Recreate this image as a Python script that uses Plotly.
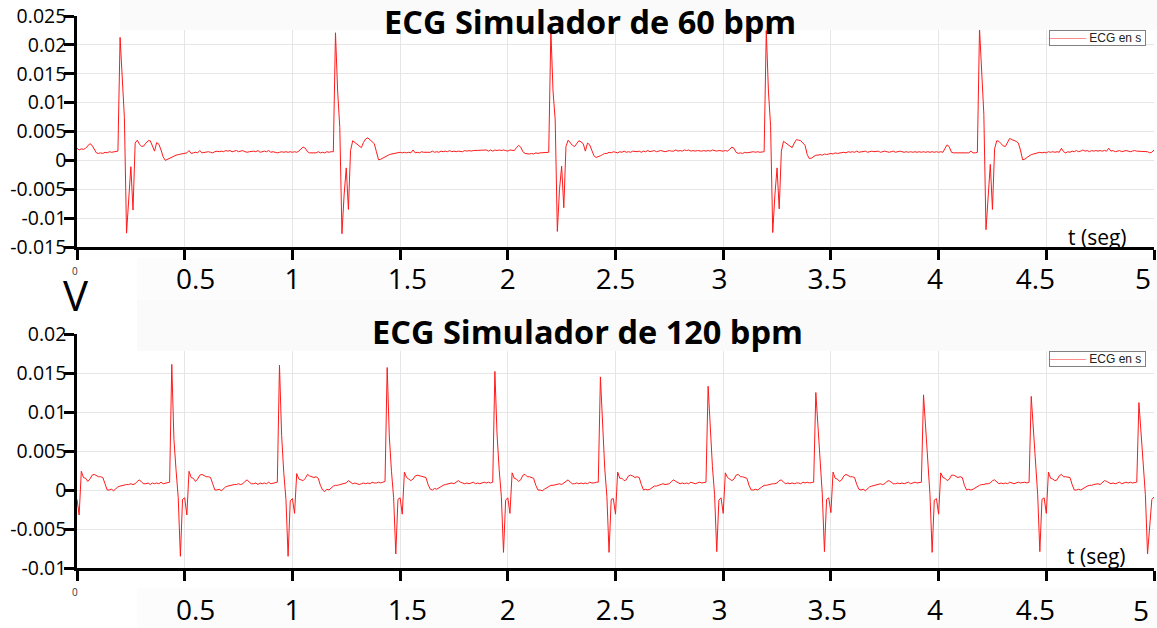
import numpy as np
import plotly.graph_objects as go

# ---------------- data: ECG 60 bpm, sampled every 0.01 s (rows of 0.1 s) ----------------
sec0_60 = [
    0.0021, 0.0018, 0.0020, 0.0019, 0.0021, 0.0026, 0.0029, 0.0026, 0.0018, 0.0013,
    0.0012, 0.0013, 0.0012, 0.0014, 0.0013, 0.0015, 0.0014, 0.0015, 0.0016, 0.0016,
    0.0213, 0.0130, 0.0074, -0.0126, -0.0060, -0.0011, -0.0086, 0.0030, 0.0035, 0.0028,
    0.0024, 0.0025, 0.0030, 0.0034, 0.0034, 0.0026, 0.0016, 0.0031, 0.0028, 0.0018,
    0.0006, 0.0000, 0.0002, 0.0004, 0.0006, 0.0008, 0.0009, 0.0010, 0.0011, 0.0011,
    0.0012, 0.0013, 0.0017, 0.0012, 0.0013, 0.0014, 0.0013, 0.0017, 0.0013, 0.0014,
    0.0014, 0.0015, 0.0014, 0.0013, 0.0015, 0.0016, 0.0015, 0.0016, 0.0015, 0.0017,
    0.0016, 0.0017, 0.0015, 0.0016, 0.0017, 0.0015, 0.0016, 0.0017, 0.0015, 0.0014,
    0.0015, 0.0016, 0.0016, 0.0015, 0.0017, 0.0014, 0.0015, 0.0016, 0.0015, 0.0017,
    0.0014, 0.0015, 0.0014, 0.0013, 0.0014, 0.0015, 0.0014, 0.0015, 0.0014, 0.0015,
]
sec1_60 = [
    0.0014, 0.0015, 0.0014, 0.0016, 0.0020, 0.0023, 0.0021, 0.0015, 0.0013, 0.0013,
    0.0014, 0.0013, 0.0015, 0.0013, 0.0014, 0.0013, 0.0015, 0.0014, 0.0015, 0.0015,
    0.0221, 0.0120, 0.0057, -0.0127, -0.0060, -0.0013, -0.0085, 0.0017, 0.0034, 0.0031,
    0.0028, 0.0025, 0.0022, 0.0031, 0.0037, 0.0039, 0.0036, 0.0033, 0.0029, 0.0015,
    0.0001, 0.0002, 0.0004, 0.0007, 0.0008, 0.0010, 0.0011, 0.0012, 0.0013, 0.0013,
    0.0014, 0.0013, 0.0014, 0.0013, 0.0014, 0.0013, 0.0018, 0.0013, 0.0014, 0.0013,
    0.0015, 0.0014, 0.0014, 0.0015, 0.0014, 0.0016, 0.0014, 0.0015, 0.0014, 0.0016,
    0.0015, 0.0016, 0.0015, 0.0017, 0.0015, 0.0016, 0.0015, 0.0016, 0.0016, 0.0015,
    0.0017, 0.0016, 0.0017, 0.0016, 0.0017, 0.0017, 0.0018, 0.0017, 0.0018, 0.0017,
    0.0018, 0.0016, 0.0018, 0.0016, 0.0018, 0.0017, 0.0018, 0.0017, 0.0018, 0.0017,
]
sec2_60 = [
    0.0016, 0.0018, 0.0017, 0.0017, 0.0022, 0.0026, 0.0023, 0.0015, 0.0012, 0.0011,
    0.0011, 0.0012, 0.0011, 0.0013, 0.0012, 0.0013, 0.0013, 0.0014, 0.0014, 0.0014,
    0.0225, 0.0120, 0.0070, -0.0123, -0.0050, -0.0010, -0.0082, 0.0024, 0.0035, 0.0031,
    0.0026, 0.0024, 0.0030, 0.0034, 0.0032, 0.0029, 0.0016, 0.0030, 0.0027, 0.0016,
    0.0008, 0.0005, 0.0006, 0.0008, 0.0010, 0.0012, 0.0012, 0.0014, 0.0013, 0.0015,
    0.0014, 0.0013, 0.0015, 0.0014, 0.0016, 0.0014, 0.0015, 0.0014, 0.0016, 0.0015,
    0.0015, 0.0016, 0.0014, 0.0016, 0.0015, 0.0017, 0.0015, 0.0016, 0.0017, 0.0015,
    0.0016, 0.0017, 0.0016, 0.0015, 0.0016, 0.0017, 0.0016, 0.0016, 0.0018, 0.0016,
    0.0017, 0.0016, 0.0018, 0.0017, 0.0018, 0.0016, 0.0017, 0.0016, 0.0017, 0.0016,
    0.0016, 0.0017, 0.0016, 0.0017, 0.0016, 0.0018, 0.0017, 0.0016, 0.0017, 0.0016,
]
sec3_60 = [
    0.0016, 0.0017, 0.0016, 0.0019, 0.0023, 0.0021, 0.0014, 0.0012, 0.0013, 0.0012,
    0.0014, 0.0013, 0.0014, 0.0014, 0.0015, 0.0014, 0.0015, 0.0014, 0.0015, 0.0015,
    0.0225, 0.0120, 0.0060, -0.0125, -0.0060, -0.0013, -0.0084, 0.0016, 0.0033, 0.0030,
    0.0028, 0.0025, 0.0022, 0.0030, 0.0036, 0.0035, 0.0034, 0.0030, 0.0026, 0.0010,
    0.0003, 0.0004, 0.0007, 0.0009, 0.0009, 0.0010, 0.0009, 0.0011, 0.0010, 0.0011,
    0.0012, 0.0011, 0.0013, 0.0012, 0.0013, 0.0013, 0.0014, 0.0013, 0.0015, 0.0014,
    0.0015, 0.0014, 0.0016, 0.0014, 0.0015, 0.0015, 0.0016, 0.0014, 0.0015, 0.0016,
    0.0015, 0.0015, 0.0016, 0.0014, 0.0015, 0.0016, 0.0015, 0.0014, 0.0015, 0.0016,
    0.0014, 0.0015, 0.0016, 0.0015, 0.0014, 0.0015, 0.0014, 0.0015, 0.0014, 0.0015,
    0.0014, 0.0015, 0.0014, 0.0015, 0.0014, 0.0015, 0.0014, 0.0015, 0.0014, 0.0015,
]
sec4_60 = [
    0.0014, 0.0015, 0.0014, 0.0021, 0.0027, 0.0023, 0.0014, 0.0013, 0.0013, 0.0012,
    0.0013, 0.0013, 0.0012, 0.0013, 0.0013, 0.0016, 0.0013, 0.0013, 0.0014, 0.0228,
    0.0140, 0.0080, -0.0120, -0.0060, -0.0007, -0.0085, 0.0020, 0.0034, 0.0033, 0.0029,
    0.0025, 0.0024, 0.0030, 0.0038, 0.0036, 0.0035, 0.0033, 0.0030, 0.0018, 0.0001,
    0.0002, 0.0005, 0.0008, 0.0010, 0.0011, 0.0012, 0.0012, 0.0014, 0.0013, 0.0014,
    0.0013, 0.0015, 0.0014, 0.0015, 0.0014, 0.0015, 0.0014, 0.0021, 0.0015, 0.0013,
    0.0015, 0.0014, 0.0016, 0.0015, 0.0017, 0.0015, 0.0016, 0.0018, 0.0016, 0.0017,
    0.0015, 0.0017, 0.0016, 0.0017, 0.0016, 0.0017, 0.0016, 0.0017, 0.0016, 0.0021,
    0.0016, 0.0017, 0.0015, 0.0016, 0.0017, 0.0015, 0.0016, 0.0017, 0.0016, 0.0015,
    0.0016, 0.0017, 0.0016, 0.0016, 0.0015, 0.0016, 0.0016, 0.0015, 0.0013, 0.0014,
    0.0018,
]

# ---------------- data: ECG 120 bpm, sampled every 0.01 s (one list per beat) ----------------
pre_120 = [
    -0.0012, -0.0032, 0.0024, 0.0016, 0.0015, 0.0011, 0.0014, 0.0019, 0.0020, 0.0018,
    0.0017, 0.0017, 0.0016, 0.0008, 0.0000, 0.0000, 0.0001, -0.0001, 0.0002, 0.0004,
    0.0005, 0.0006, 0.0006, 0.0007, 0.0007, 0.0008, 0.0007, 0.0008, 0.0011, 0.0013,
    0.0010, 0.0008, 0.0008, 0.0009, 0.0007, 0.0009, 0.0008, 0.0009, 0.0008, 0.0010,
    0.0008, 0.0009, 0.0010, 0.0010,
]
beat1_120 = [
    0.0161, 0.0065, 0.0025, -0.0010, -0.0085, -0.0012, -0.0010, -0.0032, 0.0024, 0.0016,
    0.0015, 0.0011, 0.0014, 0.0019, 0.0020, 0.0018, 0.0017, 0.0017, 0.0016, 0.0008,
    0.0000, 0.0000, 0.0001, -0.0001, 0.0002, 0.0004, 0.0005, 0.0006, 0.0006, 0.0007,
    0.0007, 0.0008, 0.0007, 0.0008, 0.0011, 0.0013, 0.0010, 0.0008, 0.0008, 0.0009,
    0.0007, 0.0009, 0.0008, 0.0009, 0.0008, 0.0010, 0.0008, 0.0009, 0.0010, 0.0010,
]
beat2_120 = [
    0.0160, 0.0070, 0.0022, -0.0012, -0.0085, -0.0014, -0.0011, -0.0030, 0.0021, 0.0014,
    0.0013, 0.0012, 0.0015, 0.0020, 0.0018, 0.0017, 0.0016, 0.0017, 0.0015, 0.0006,
    0.0000, -0.0002, 0.0001, 0.0000, 0.0003, 0.0005, 0.0006, 0.0006, 0.0007, 0.0008,
    0.0008, 0.0009, 0.0012, 0.0010, 0.0008, 0.0009, 0.0008, 0.0007, 0.0008, 0.0009,
    0.0008, 0.0009, 0.0008, 0.0010, 0.0009, 0.0009, 0.0010, 0.0009, 0.0010, 0.0011,
]
beat3_120 = [
    0.0157, 0.0068, 0.0024, -0.0010, -0.0082, -0.0012, -0.0010, -0.0031, 0.0023, 0.0016,
    0.0014, 0.0012, 0.0014, 0.0018, 0.0019, 0.0018, 0.0017, 0.0016, 0.0016, 0.0007,
    0.0001, 0.0000, 0.0002, 0.0001, 0.0003, 0.0005, 0.0006, 0.0007, 0.0008, 0.0008,
    0.0009, 0.0008, 0.0010, 0.0012, 0.0010, 0.0009, 0.0008, 0.0009, 0.0008, 0.0009,
    0.0010, 0.0008, 0.0009, 0.0008, 0.0009, 0.0010, 0.0009, 0.0010, 0.0009, 0.0010,
]
beat4_120 = [
    0.0152, 0.0072, 0.0026, -0.0008, -0.0080, -0.0013, -0.0010, -0.0030, 0.0022, 0.0015,
    0.0014, 0.0011, 0.0013, 0.0019, 0.0020, 0.0017, 0.0017, 0.0016, 0.0015, 0.0006,
    0.0000, 0.0000, -0.0001, 0.0001, 0.0003, 0.0004, 0.0006, 0.0006, 0.0007, 0.0007,
    0.0008, 0.0007, 0.0009, 0.0011, 0.0013, 0.0010, 0.0008, 0.0008, 0.0009, 0.0008,
    0.0009, 0.0008, 0.0009, 0.0008, 0.0010, 0.0009, 0.0009, 0.0010, 0.0010,
]
beat5_120 = [
    0.0145, 0.0075, 0.0028, -0.0008, -0.0080, -0.0012, -0.0011, -0.0031, 0.0023, 0.0015,
    0.0015, 0.0012, 0.0013, 0.0018, 0.0019, 0.0018, 0.0016, 0.0017, 0.0016, 0.0007,
    0.0000, 0.0001, 0.0000, 0.0001, 0.0003, 0.0005, 0.0005, 0.0006, 0.0007, 0.0008,
    0.0007, 0.0008, 0.0008, 0.0011, 0.0013, 0.0011, 0.0009, 0.0008, 0.0009, 0.0008,
    0.0009, 0.0008, 0.0010, 0.0009, 0.0008, 0.0009, 0.0010, 0.0009, 0.0010, 0.0010,
]
beat6_120 = [
    0.0133, 0.0078, 0.0030, -0.0006, -0.0079, -0.0013, -0.0010, -0.0030, 0.0022, 0.0016,
    0.0014, 0.0012, 0.0014, 0.0019, 0.0020, 0.0017, 0.0017, 0.0016, 0.0015, 0.0006,
    0.0000, 0.0000, 0.0001, 0.0000, 0.0002, 0.0004, 0.0006, 0.0006, 0.0007, 0.0007,
    0.0008, 0.0008, 0.0009, 0.0012, 0.0013, 0.0010, 0.0008, 0.0009, 0.0008, 0.0009,
    0.0008, 0.0009, 0.0009, 0.0008, 0.0010, 0.0009, 0.0010, 0.0009, 0.0010, 0.0010,
]
beat7_120 = [
    0.0125, 0.0080, 0.0031, -0.0005, -0.0079, -0.0012, -0.0010, -0.0029, 0.0023, 0.0015,
    0.0014, 0.0011, 0.0013, 0.0018, 0.0020, 0.0018, 0.0017, 0.0017, 0.0016, 0.0007,
    0.0001, 0.0000, 0.0001, -0.0001, 0.0002, 0.0004, 0.0005, 0.0006, 0.0007, 0.0007,
    0.0008, 0.0007, 0.0008, 0.0011, 0.0012, 0.0010, 0.0008, 0.0008, 0.0009, 0.0008,
    0.0009, 0.0008, 0.0009, 0.0010, 0.0008, 0.0009, 0.0010, 0.0009, 0.0010, 0.0010,
]
beat8_120 = [
    0.0122, 0.0078, 0.0030, -0.0006, -0.0080, -0.0013, -0.0011, -0.0031, 0.0022, 0.0016,
    0.0015, 0.0012, 0.0014, 0.0019, 0.0019, 0.0018, 0.0016, 0.0017, 0.0016, 0.0006,
    0.0000, 0.0001, 0.0000, 0.0001, 0.0003, 0.0005, 0.0006, 0.0007, 0.0007, 0.0008,
    0.0008, 0.0009, 0.0012, 0.0013, 0.0010, 0.0008, 0.0009, 0.0008, 0.0009, 0.0008,
    0.0010, 0.0009, 0.0008, 0.0009, 0.0010, 0.0009, 0.0010, 0.0010, 0.0009, 0.0010,
]
beat9_120 = [
    0.0120, 0.0077, 0.0029, -0.0006, -0.0079, -0.0012, -0.0010, -0.0030, 0.0023, 0.0015,
    0.0014, 0.0012, 0.0013, 0.0018, 0.0020, 0.0017, 0.0017, 0.0016, 0.0016, 0.0007,
    0.0000, 0.0000, 0.0001, 0.0000, 0.0002, 0.0004, 0.0005, 0.0006, 0.0006, 0.0007,
    0.0008, 0.0008, 0.0007, 0.0010, 0.0012, 0.0011, 0.0009, 0.0008, 0.0009, 0.0008,
    0.0009, 0.0010, 0.0008, 0.0009, 0.0010, 0.0009, 0.0010, 0.0009, 0.0010, 0.0010,
]
end_120 = [0.0112, 0.0075, 0.0028, -0.0006, -0.0082, -0.0040, -0.0012, -0.0009]

# ---------------- tick labels ----------------
x_tickvals = [0, 0.5, 1, 1.5, 2, 2.5, 3, 3.5, 4, 4.5, 5]
NB = "\u00a0"
# first ("0") and last ("5") labels are drawn as annotations (different size / kept in frame)
x_ticktext = ["", NB * 3 + "0.5", "1", NB * 2 + "1.5", "2", "2.5", "3" + NB, "3.5" + NB,
              "4" + NB, "4.5" + NB * 3, ""]
y1_tickvals = [0.025, 0.02, 0.015, 0.01, 0.005, 0, -0.005, -0.01, -0.015]
y1_ticktext = ["0.025", "0.02", "0.015", "0.01", "0.005", "0", "-0.005", "-0.01", "-0.015"]
y2_tickvals = [0.02, 0.015, 0.01, 0.005, 0, -0.005, -0.01]
y2_ticktext = ["0.02", "0.015", "0.01", "0.005", "0", "-0.005", "-0.01"]
legend_label = "ECG en s"

v60 = sec0_60 + sec1_60 + sec2_60 + sec3_60 + sec4_60
v120 = (pre_120 + beat1_120 + beat2_120 + beat3_120 + beat4_120 + beat5_120
        + beat6_120 + beat7_120 + beat8_120 + beat9_120 + end_120)
assert len(v60) == 501, len(v60)
assert len(v120) == 501, len(v120)
dt = 0.01
t60 = np.round(np.arange(len(v60)) * dt, 2)
t120 = np.round(np.arange(len(v120)) * dt, 2)

W, H = 1157, 628
def px(x):
    return x / W
def py(y):
    return 1 - y / H

fig = go.Figure()
fig.add_trace(go.Scatter(x=t60, y=v60, mode="lines", name=legend_label, showlegend=False,
                         line=dict(color="#ff1a1a", width=1), xaxis="x", yaxis="y"))
fig.add_trace(go.Scatter(x=t120, y=v120, mode="lines", name=legend_label, showlegend=False,
                         line=dict(color="#ff1a1a", width=1), xaxis="x2", yaxis="y2"))

tickfont_x = dict(family="Open Sans", size=28, color="black")
tickfont_y = dict(family="Open Sans", size=19.5, color="black")
common_x = dict(range=[0, 5], tickmode="array", tickvals=x_tickvals, ticktext=x_ticktext,
                tickfont=tickfont_x, showline=True, linecolor="black", linewidth=2.5,
                ticks="outside", ticklen=10, tickwidth=2.5, tickcolor="black",
                showgrid=True, gridcolor="#e6e6e6", gridwidth=1, zeroline=False,
                automargin=False, ticklabeloverflow="allow",
                domain=[px(77), px(1154)])
common_y = dict(tickmode="array", tickfont=tickfont_y, showline=True, linecolor="black",
                linewidth=2.5, ticks="outside", ticklen=10, tickwidth=2.5, tickcolor="black",
                showgrid=True, gridcolor="#e6e6e6", gridwidth=1, zeroline=False,
                automargin=False, ticklabeloverflow="allow", ticklabelstandoff=-6)

fig.update_layout(
    width=W, height=H, margin=dict(l=0, r=0, t=0, b=0, autoexpand=False),
    paper_bgcolor="white", plot_bgcolor="white",
    xaxis=dict(anchor="y", ticklabelstandoff=-4, **common_x),
    yaxis=dict(anchor="x", range=[-0.015, 0.025], tickvals=y1_tickvals, ticktext=y1_ticktext,
               domain=[py(247), py(16)], **common_y),
    xaxis2=dict(anchor="y2", ticklabelstandoff=6, **common_x),
    yaxis2=dict(anchor="x2", range=[-0.01, 0.02], tickvals=y2_tickvals, ticktext=y2_ticktext,
                domain=[py(568), py(334)], **common_y),
    showlegend=False,
)

shapes = [
    dict(type="rect", xref="paper", yref="paper", x0=px(120), x1=1, y0=py(30), y1=1,
         fillcolor="#fafafa", line=dict(width=0), layer="above"),
    dict(type="rect", xref="paper", yref="paper", x0=px(137), x1=1, y0=py(351), y1=py(300),
         fillcolor="#fafafa", line=dict(width=0), layer="above"),
    dict(type="rect", xref="paper", yref="paper", x0=px(137), x1=1, y0=py(300), y1=py(258),
         fillcolor="#fcfcfc", line=dict(width=0), layer="below"),
    dict(type="rect", xref="paper", yref="paper", x0=px(137), x1=1, y0=0, y1=py(588),
         fillcolor="#fcfcfc", line=dict(width=0), layer="below"),
]
fig.update_layout(shapes=shapes)

legend_text = "<span style='color:#ff8c8c'>\u2014\u2014\u2014</span> " + legend_label + " "
ann = [
    dict(text="<b>ECG Simulador de 60 bpm</b>", x=px(590), y=py(21), xref="paper", yref="paper",
         showarrow=False, xanchor="center", yanchor="middle",
         font=dict(family="Open Sans", size=32.5, color="black")),
    dict(text="<b>ECG Simulador de 120 bpm</b>", x=px(587), y=py(331), xref="paper", yref="paper",
         showarrow=False, xanchor="center", yanchor="middle",
         font=dict(family="Open Sans", size=32.5, color="black")),
    dict(text="V", x=px(76), y=py(294), xref="paper", yref="paper", showarrow=False,
         xanchor="center", yanchor="middle", font=dict(family="Open Sans", size=42, color="black")),
    dict(text="0", x=px(75), y=py(271), xref="paper", yref="paper", showarrow=False,
         xanchor="center", yanchor="middle", font=dict(family="Open Sans", size=10, color="#333")),
    dict(text="0", x=px(75), y=py(592), xref="paper", yref="paper", showarrow=False,
         xanchor="center", yanchor="middle", font=dict(family="Open Sans", size=10, color="#333")),
    dict(text="5", x=px(1143), y=py(278), xref="paper", yref="paper", showarrow=False,
         xanchor="center", yanchor="middle", font=tickfont_x),
    dict(text="5", x=px(1141), y=py(610), xref="paper", yref="paper", showarrow=False,
         xanchor="center", yanchor="middle", font=tickfont_x),
    dict(text="t (seg)", x=px(1097), y=py(237), xref="paper", yref="paper", showarrow=False,
         xanchor="center", yanchor="middle", font=dict(family="Open Sans", size=21, color="black")),
    dict(text="t (seg)", x=px(1096), y=py(556), xref="paper", yref="paper", showarrow=False,
         xanchor="center", yanchor="middle", font=dict(family="Open Sans", size=21, color="black")),
    dict(text=legend_text, x=px(1049), y=py(30), xref="paper", yref="paper", showarrow=False,
         xanchor="left", yanchor="top", bgcolor="white", bordercolor="#808080", borderwidth=1,
         borderpad=0, font=dict(family="Liberation Sans", size=12, color="#222")),
    dict(text=legend_text, x=px(1049), y=py(351), xref="paper", yref="paper", showarrow=False,
         xanchor="left", yanchor="top", bgcolor="white", bordercolor="#808080", borderwidth=1,
         borderpad=0, font=dict(family="Liberation Sans", size=12, color="#222")),
]
fig.update_layout(annotations=ann)

fig.write_html("out.html")
